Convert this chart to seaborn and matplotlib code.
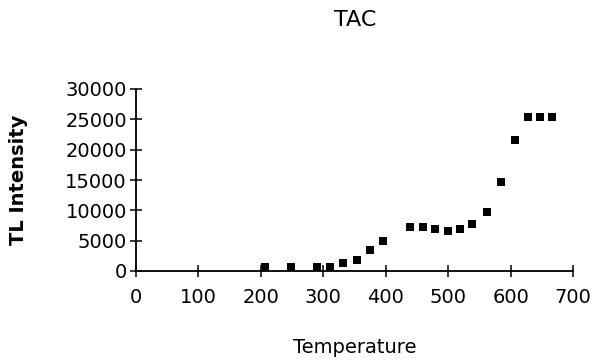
import matplotlib
matplotlib.use("Agg")
import matplotlib.pyplot as plt
import seaborn as sns
import pandas as pd

temperature = [206, 249, 290, 310, 331, 354, 375, 395, 439, 460, 479, 499,
               519, 539, 563, 584, 607, 628, 647, 667]
tl_intensity = [700, 650, 600, 700, 1400, 1800, 3500, 4900, 7300, 7300, 6900,
                6600, 7000, 7700, 9800, 14600, 21600, 25400, 25400, 25400]
x_ticks = [0, 100, 200, 300, 400, 500, 600, 700]
y_ticks = [0, 5000, 10000, 15000, 20000, 25000, 30000]

df = pd.DataFrame({"Temperature": temperature, "TL Intensity": tl_intensity})

sns.set_theme(style="white")
plt.rcParams["font.family"] = ["DejaVu Sans"]

fig = plt.figure(figsize=(5.94, 3.64), dpi=100)
ax = fig.add_axes([136 / 594, 1 - 271 / 364, (573 - 136) / 594, (271 - 89) / 364])

sns.scatterplot(data=df, x="Temperature", y="TL Intensity", marker="s", s=38,
                color="black", linewidth=0, ax=ax, clip_on=False, zorder=3)

ax.set_xlim(0, 700)
ax.set_ylim(0, 30000)
ax.set_xticks(x_ticks)
ax.set_yticks(y_ticks)
ax.set_xticklabels([str(t) for t in x_ticks], fontsize=14)
ax.set_yticklabels([str(t) for t in y_ticks], fontsize=14)

for side in ("top", "right"):
    ax.spines[side].set_visible(False)
for side in ("left", "bottom"):
    ax.spines[side].set_color("black")
    ax.spines[side].set_linewidth(1.3)

ax.tick_params(axis="both", which="major", bottom=True, left=True,
               direction="inout", length=9, width=1.1,
               colors="black", labelcolor="black")
ax.tick_params(axis="x", pad=8)
ax.tick_params(axis="y", pad=2)

ax.set_xlabel("Temperature", fontsize=14, labelpad=22, color="black")
ax.set_ylabel("TL Intensity", fontsize=14, fontweight="bold", labelpad=27,
              color="black")
fig.text(355 / 594, 1 - 20 / 364, "TAC", ha="center", va="center",
         fontsize=16, color="black")

fig.savefig("out.png", dpi=100, facecolor="white")
